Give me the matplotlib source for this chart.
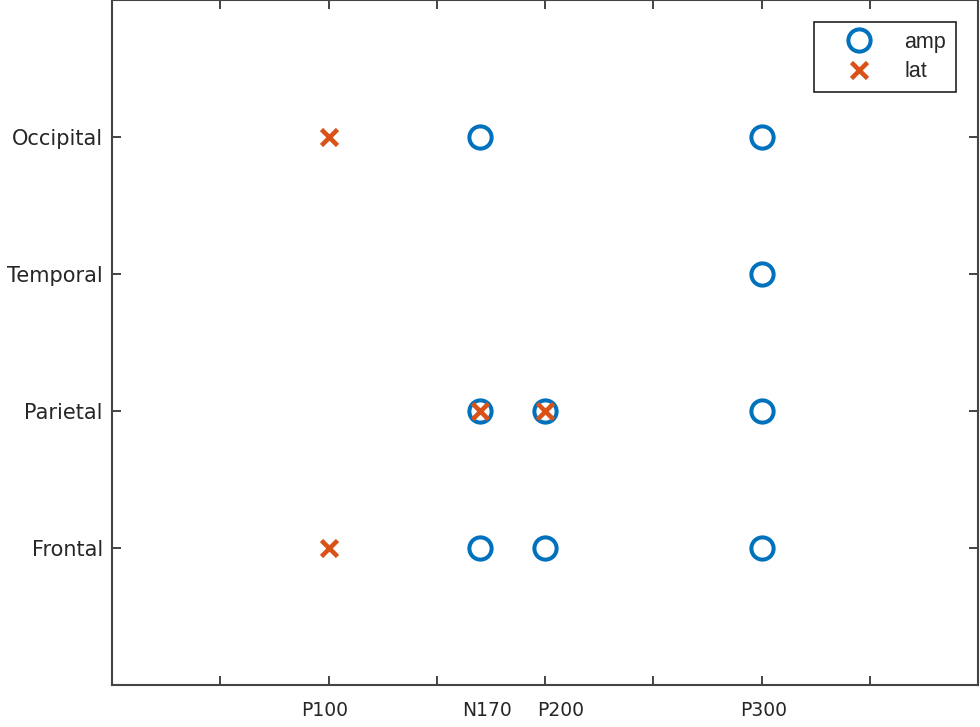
import numpy as np
import matplotlib.pyplot as plt

# ERP components (latency in ms) and scalp regions
regions = ['Frontal', 'Parietal', 'Temporal', 'Occipital']
region_pos = [1, 2, 3, 4]
comp_names = ['P100', 'N170', 'P200', 'P300']
comp_lat = [100, 170, 200, 300]
label_shift = [-2, 3, 7, 1]

# effects found on amplitude
amp_x = [170, 300, 300, 170, 200, 300, 170, 200, 300]
amp_y = [4, 4, 3, 2, 2, 2, 1, 1, 1]
# effects found on latency
lat_x = [100, 170, 200, 100]
lat_y = [4, 2, 2, 1]

blue = '#0072BD'
orange = '#D95319'
txt = '#262626'

fig = plt.figure(figsize=(9.8, 7.27), dpi=100)
ax = fig.add_axes([112/980, 42/727, 866/980, 685/727])

ax.plot(amp_x, amp_y, 'o', ls='none', ms=16, mfc='none', mec=blue, mew=2.9, label='amp')
ax.plot(lat_x, lat_y, 'x', ls='none', ms=12, mec=orange, mew=3.3, label='lat')

ax.set_xlim(0, 400)
ax.set_ylim(0, 5)
ax.set_xticks(np.arange(50, 400, 50))
ax.set_xticklabels([])
for name, lat, dx in zip(comp_names, comp_lat, label_shift):
    ax.text(lat + dx, -0.115, name, ha='center', va='top', fontsize=13.5,
            family='DejaVu Sans', color=txt)
ax.set_yticks(region_pos)
ax.set_yticklabels(regions, family='DejaVu Sans', fontsize=15, color=txt)
ax.tick_params(direction='in', length=6.5, width=1.4, color='#444444',
               top=True, right=True, pad=6.5)
for s in ax.spines.values():
    s.set_color('#444444')
    s.set_linewidth(1.5)

leg = ax.legend(loc='upper right', bbox_to_anchor=(1 - 22/866, 1 - 22/685),
                borderaxespad=0, frameon=True, fancybox=False,
                edgecolor='#222222', framealpha=1,
                prop={'family': 'Liberation Sans', 'size': 15.5},
                handletextpad=0.45, borderpad=0.45, labelspacing=0.4,
                handlelength=3.3)
leg.get_frame().set_linewidth(1.2)
for t in leg.get_texts():
    t.set_color(txt)

fig.savefig('out.png', dpi=100)
